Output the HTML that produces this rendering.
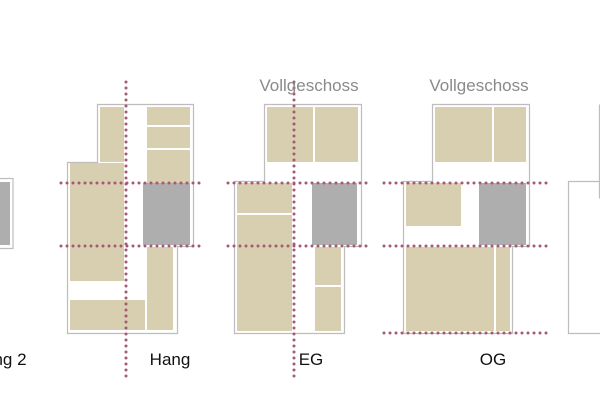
<!DOCTYPE html>
<html><head><meta charset="utf-8"><style>html,body{margin:0;padding:0;background:#fff}svg{display:block}</style></head>
<body>
<svg width="600" height="400" viewBox="0 0 600 400" xmlns="http://www.w3.org/2000/svg">
<g fill="none" stroke="#bdbdbd" stroke-width="1.2">
<rect x="-5" y="178.5" width="18" height="70"/>
<path d="M97.5 104.5H193.5V246.5H177.5V333.5H67.5V162.5H97.5Z"/>
<path d="M264.5 104.5H361.5V246.5H344.5V333.5H234.5V181.5H264.5Z"/>
<path d="M432.5 104.5H529.5V246.5H512.5V333.5H403.5V181.5H432.5Z"/>
<path d="M600 181.5H568.5V333.5H600"/>
<path d="M599.5 104.5V198.5"/>
</g>
<g fill="#d8cfb0">
<rect x="100" y="107" width="24" height="55"/>
<rect x="70" y="163" width="54" height="118"/>
<rect x="70" y="300" width="75" height="30"/>
<rect x="147" y="247" width="26" height="83"/>
<rect x="147" y="107" width="43" height="18"/>
<rect x="147" y="127" width="43" height="21"/>
<rect x="147" y="150" width="43" height="33"/>
<rect x="267" y="107" width="46" height="55"/>
<rect x="315" y="107" width="43" height="55"/>
<rect x="237" y="183" width="55" height="30"/>
<rect x="237" y="215" width="55" height="116"/>
<rect x="315" y="247" width="26" height="38"/>
<rect x="315" y="287" width="26" height="44"/>
<rect x="435" y="107" width="57" height="55"/>
<rect x="494" y="107" width="32" height="55"/>
<rect x="406" y="183" width="55" height="43"/>
<rect x="406" y="247" width="88" height="84"/>
<rect x="496" y="247" width="14" height="84"/>
</g>
<g fill="#aeaeae">
<rect x="-2" y="182" width="12" height="63"/>
<rect x="143" y="183" width="47" height="62"/>
<rect x="312" y="183" width="45" height="62"/>
<rect x="479" y="183" width="47" height="62"/>
</g>
<g stroke="#a45a74" stroke-width="3" stroke-linecap="round" stroke-dasharray="0 6">
<line x1="61" y1="183" x2="200" y2="183"/>
<line x1="61" y1="246" x2="200" y2="246"/>
<line x1="126" y1="82" x2="126" y2="378"/>
<line x1="228" y1="183" x2="368" y2="183"/>
<line x1="228" y1="246" x2="368" y2="246"/>
<line x1="294" y1="82" x2="294" y2="378"/>
<line x1="384" y1="183" x2="548" y2="183"/>
<line x1="384" y1="246" x2="548" y2="246"/>
<line x1="384" y1="333" x2="548" y2="333"/>
</g>
<g font-family="Liberation Sans, sans-serif" font-size="17" text-anchor="middle">
<text x="309" y="91" fill="#8a8a8a">Vollgeschoss</text>
<text x="479" y="91" fill="#8a8a8a">Vollgeschoss</text>
<text x="10" y="365" fill="#111">ng 2</text>
<text x="170" y="365" fill="#111">Hang</text>
<text x="311" y="365" fill="#111">EG</text>
<text x="493" y="365" fill="#111">OG</text>
</g>
</svg>
</body></html>
